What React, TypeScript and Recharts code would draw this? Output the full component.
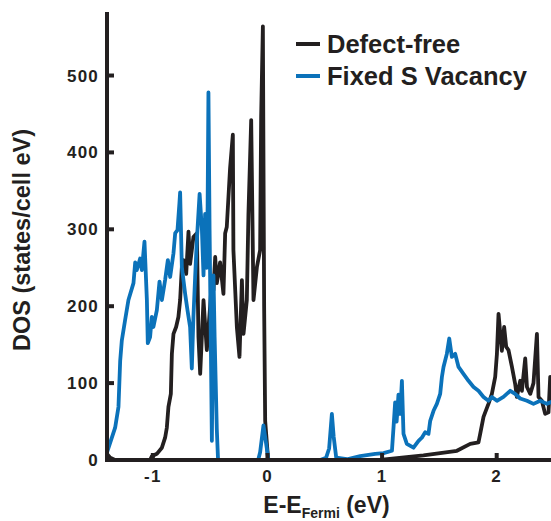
import { LineChart, Line, XAxis, YAxis, Legend, Label } from "recharts";

// energy (eV, relative to Fermi level) and DOS (states/cell eV)
const defectE = [
  -1.4, -1.372, -1.329, -1.024, -1.009, -0.965, -0.921, -0.893, -0.878, -0.864,
  -0.843, -0.834, -0.82, -0.797, -0.777, -0.762, -0.747, -0.733, -0.709, -0.689,
  -0.675, -0.66, -0.646, -0.616, -0.602, -0.587, -0.558, -0.529, -0.5, -0.485,
  -0.471, -0.456, -0.442, -0.413, -0.384, -0.369, -0.355, -0.326, -0.302, -0.297,
  -0.267, -0.244, -0.223, -0.209, -0.18, -0.166, -0.142, -0.122, -0.092, -0.064,
  -0.055, -0.04, -0.029, -0.02, 0.006, 0.983, 1.361, 1.507, 1.653, 1.769,
  1.841, 1.856, 1.885, 1.928, 1.958, 1.987, 2.002, 2.016, 2.045, 2.065,
  2.083, 2.103, 2.133, 2.161, 2.176, 2.205, 2.22, 2.249, 2.264, 2.293,
  2.321, 2.351, 2.365, 2.394, 2.423, 2.452, 2.467, 2.48, 2.5,
];
const defectDos = [
  8, 3, 0, 0, 5, 8, 16, 29, 42, 69,
  86, 138, 164, 173, 186, 208, 251, 260, 242, 297,
  255, 273, 290, 295, 160, 112, 208, 143, 200, 235,
  221, 264, 230, 257, 216, 295, 303, 380, 423, 273,
  173, 134, 234, 164, 208, 320, 442, 208, 251, 273,
  447, 564, 200, 51, 0, 0, 6, 9, 12, 21,
  23, 34, 56, 73, 86, 108, 138, 190, 142, 173,
  147, 143, 121, 99, 82, 103, 90, 132, 95, 86,
  100, 164, 82, 77, 60, 62, 108, 95, 100,
];

const vacancyE = [
  -1.4, -1.329, -1.3, -1.285, -1.271, -1.242, -1.213, -1.169, -1.154, -1.14,
  -1.111, -1.096, -1.073, -1.052, -1.044, -1.024, -1.009, -0.995, -0.965, -0.942,
  -0.921, -0.893, -0.869, -0.849, -0.82, -0.805, -0.785, -0.768, -0.762, -0.747,
  -0.718, -0.698, -0.675, -0.66, -0.646, -0.631, -0.616, -0.592, -0.572, -0.558,
  -0.544, -0.531, -0.522, -0.515, -0.505, -0.496, -0.485, -0.471, -0.461, -0.442,
  -0.431, -0.081, -0.064, -0.035, -0.02, 0.009, 0.46, 0.512, 0.538, 0.562,
  0.578, 0.6, 0.693, 0.809, 0.94, 1.013, 1.086, 1.101, 1.114, 1.127,
  1.143, 1.158, 1.173, 1.187, 1.216, 1.274, 1.318, 1.347, 1.376, 1.405,
  1.42, 1.449, 1.478, 1.507, 1.522, 1.536, 1.565, 1.586, 1.609, 1.638,
  1.667, 1.71, 1.754, 1.798, 1.841, 1.885, 1.928, 1.958, 2.002, 2.059,
  2.118, 2.161, 2.205, 2.264, 2.321, 2.38, 2.438, 2.5,
];
const vacancyDos = [
  10, 42, 69, 129, 155, 182, 208, 230, 257, 247,
  262, 247, 284, 208, 152, 160, 186, 173, 195, 232,
  208, 234, 260, 238, 269, 295, 299, 334, 348, 251,
  216, 195, 173, 119, 186, 238, 286, 346, 300, 240,
  320, 250, 330, 478, 300, 180, 25, 240, 160, 40,
  0, 0, 10, 45, 30, 0, 0, 3, 15, 60,
  30, 3, 1, 5, 8, 9, 12, 45, 75, 50,
  85, 60, 103, 34, 21, 16, 25, 29, 36, 34,
  51, 64, 73, 86, 108, 121, 138, 158, 134, 138,
  121, 112, 103, 95, 90, 82, 77, 82, 77, 82,
  90, 86, 80, 77, 73, 77, 73, 77,
];

const seriesNames = ["Defect-free", "Fixed S Vacancy"];
const xTicks = [-1, 0, 1, 2];
const yTicks = [0, 100, 200, 300, 400, 500];
const xDomain = [-1.4, 2.5];
const yDomain = [0, 580];

const defectData = defectE.map((e, i) => ({ e, dos: defectDos[i] }));
const vacancyData = vacancyE.map((e, i) => ({ e, dos: vacancyDos[i] }));

const INK = "#231f20";
const BLUE = "#0b72ba";
const FONT = '"Liberation Sans", Arial, Helvetica, sans-serif';
const TICK_LEN = 7;
const X_GAP = 10;
const Y_GAP = 8;
const axisLine = { stroke: INK, strokeWidth: 4, strokeLinecap: "square" as const };

function BottomTick({ x, y, payload }: any) {
  const axisY = y - X_GAP;
  return (
    <g>
      <line x1={x} x2={x} y1={axisY} y2={axisY - TICK_LEN} stroke={INK} strokeWidth={4} />
      <text x={x} y={axisY + 22} textAnchor="middle" fontFamily={FONT} fontWeight="bold" fontSize={17} letterSpacing={1.2} fill={INK}>
        {payload.value}
      </text>
    </g>
  );
}

function LeftTick({ x, y, payload }: any) {
  const axisX = x + Y_GAP;
  return (
    <g>
      <line x1={axisX} x2={axisX + TICK_LEN} y1={y} y2={y} stroke={INK} strokeWidth={4} />
      <text x={x} y={y + 6} textAnchor="end" fontFamily={FONT} fontWeight="bold" fontSize={17} letterSpacing={1.2} fill={INK}>
        {payload.value}
      </text>
    </g>
  );
}

function TopTick({ x, y }: any) {
  return <line x1={x} x2={x} y1={y} y2={y + TICK_LEN} stroke={INK} strokeWidth={4} />;
}

function RightTick({ x, y }: any) {
  return <line x1={x} x2={x - TICK_LEN} y1={y} y2={y} stroke={INK} strokeWidth={4} />;
}

function XTitle({ viewBox }: any) {
  const cx = viewBox.x + viewBox.width / 2 - 4;
  return (
    <text x={cx} y={viewBox.y + 53} textAnchor="middle" fontFamily={FONT} fontWeight="bold" fontSize={23} fill={INK}>
      E-E
      <tspan fontSize={14} dy={5}>Fermi</tspan>
      <tspan dy={-5}> (eV)</tspan>
    </text>
  );
}

function YTitle({ viewBox }: any) {
  const cx = 22;
  const cy = viewBox.y + viewBox.height / 2 + 3;
  return (
    <text x={cx} y={cy} transform={`rotate(-90, ${cx}, ${cy})`} textAnchor="middle" dominantBaseline="central" fontFamily={FONT} fontWeight="bold" fontSize={23.5} fill={INK}>
      DOS (states/cell eV)
    </text>
  );
}

function LegendBox({ payload }: any) {
  return (
    <div style={{ fontFamily: FONT }}>
      {(payload || []).map((item: any) => (
        <div key={item.value} style={{ display: "flex", alignItems: "center", height: 32 }}>
          <div style={{ width: 24, height: 4, background: item.color, marginRight: 7 }} />
          <span style={{ fontSize: 25.5, fontWeight: "bold", color: INK, lineHeight: "32px", whiteSpace: "nowrap" }}>
            {item.value}
          </span>
        </div>
      ))}
    </div>
  );
}

export default function App() {
  return (
    <div style={{ position: "absolute", left: 0, top: 0, width: 551, height: 521, overflow: "hidden", background: "#fff" }}>
      <LineChart width={562} height={521} margin={{ top: 14, right: 8, bottom: 31, left: 57 }}>
        <XAxis
          dataKey="e"
          type="number"
          domain={xDomain}
          ticks={xTicks}
          interval={0}
          height={30}
          tickSize={0}
          tickMargin={X_GAP}
          axisLine={axisLine}
          tickLine={false}
          tick={<BottomTick />}
        >
          <Label content={<XTitle />} />
        </XAxis>
        <XAxis
          xAxisId="top"
          orientation="top"
          type="number"
          domain={xDomain}
          ticks={xTicks}
          allowDataOverflow
          interval={0}
          height={0}
          tickSize={0}
          tickMargin={0}
          axisLine={axisLine}
          tickLine={false}
          tick={<TopTick />}
        />
        <YAxis
          type="number"
          domain={yDomain}
          ticks={yTicks}
          interval={0}
          width={50}
          tickSize={0}
          tickMargin={Y_GAP}
          axisLine={axisLine}
          tickLine={false}
          tick={<LeftTick />}
        >
          <Label content={<YTitle />} />
        </YAxis>
        <YAxis
          yAxisId="right"
          orientation="right"
          type="number"
          domain={yDomain}
          ticks={yTicks}
          allowDataOverflow
          interval={0}
          width={0}
          tickSize={0}
          tickMargin={0}
          axisLine={axisLine}
          tickLine={false}
          tick={<RightTick />}
        />
        <Legend
          layout="horizontal"
          verticalAlign="middle"
          align="center"
          content={<LegendBox />}
          wrapperStyle={{ left: 296, top: 28, width: 250, height: 64 }}
        />
        <Line
          data={defectData}
          dataKey="dos"
          name={seriesNames[0]}
          type="linear"
          stroke={INK}
          strokeWidth={3.8}
          strokeLinejoin="round"
          dot={false}
          activeDot={false}
          isAnimationActive={false}
        />
        <Line
          data={vacancyData}
          dataKey="dos"
          name={seriesNames[1]}
          type="linear"
          stroke={BLUE}
          strokeWidth={3.8}
          strokeLinejoin="round"
          dot={false}
          activeDot={false}
          isAnimationActive={false}
        />
      </LineChart>
    </div>
  );
}
